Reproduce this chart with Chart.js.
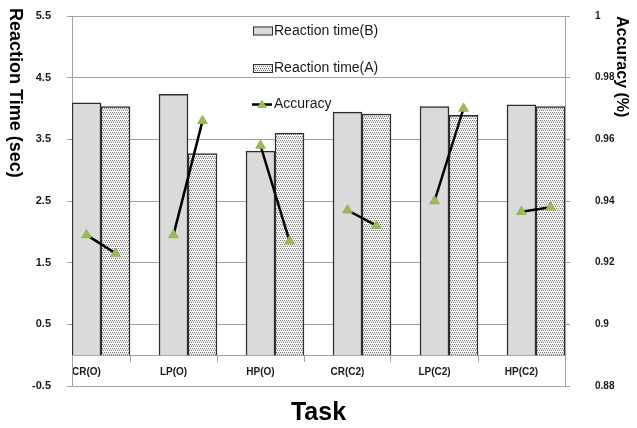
<!DOCTYPE html>
<html>
<head>
<meta charset="utf-8">
<script src="https://cdn.jsdelivr.net/npm/chart.js@4.4.0/dist/chart.umd.min.js"></script>
<style>
  body { margin: 0; background: #fff; }
</style>
</head>
<body>
<canvas id="myChart" width="637" height="428"></canvas>
<script>
'use strict';

// tasks on the x axis
let tasks = ['CR(O)', 'LP(O)', 'HP(O)', 'CR(C2)', 'LP(C2)', 'HP(C2)'];

// reaction time (sec)
let reactionB = [4.09, 4.23, 3.31, 3.94, 4.03, 4.06];
let reactionA = [4.03, 3.27, 3.60, 3.91, 3.89, 4.03];

// accuracy, B point and A point of every task
let accuracyB = [0.929, 0.929, 0.958, 0.937, 0.940, 0.9365];
let accuracyA = [0.923, 0.966, 0.927, 0.932, 0.970, 0.938];

// axis ranges
let rtMin = -0.5, rtMax = 5.5, rtStep = 1;
let accMin = 0.88, accMax = 1, accStep = 0.02;

// bar A sits one bar width right of bar B (slot = 3 bar widths)
let shiftA = 1 / 3;

let gridGray = '#a3a3a3';
let textColor = '#1a1a1a';
Chart.defaults.font.family = '"Liberation Sans", Arial, sans-serif';

//dotted fill for the A bars
function dotPattern() {
    let c = document.createElement('canvas');
    c.width = 4;
    c.height = 4;
    let g = c.getContext('2d');
    g.fillStyle = '#ffffff';
    g.fillRect(0, 0, 4, 4);
    g.fillStyle = '#e2e2e2';
    g.fillRect(0, 1, 4, 1);
    g.fillStyle = '#7e7e7e';
    g.fillRect(0, 0, 1, 1);
    g.fillRect(2, 0, 1, 1);
    g.fillRect(1, 2, 1, 1);
    g.fillRect(3, 2, 1, 1);
    return g.createPattern(c, 'repeat');
}
let dots = dotPattern();

//data tables
let dataB = reactionB.map((v, i) => ({ x: i, y: v }));
let dataA = reactionA.map((v, i) => ({ x: i + shiftA, y: v }));
let dataAcc = [];
for (let i = 0; i < tasks.length; i++) {
    dataAcc.push({ x: i, y: accuracyB[i] });
    dataAcc.push({ x: i + shiftA, y: accuracyA[i] });
}

//legend drawn inside the plot + left title reading downwards
let boxLegend = {
    id: 'boxLegend',
    afterDraw(chart) {
        let ctx = chart.ctx;
        let sets = chart.data.datasets;
        let x = 253;
        let rows = [31, 68.5, 104.5];
        ctx.save();
        ctx.font = '14px "Liberation Sans", Arial, sans-serif';
        ctx.textBaseline = 'middle';
        ctx.textAlign = 'left';

        [sets[1], sets[2]].forEach((ds, k) => {
            let y = rows[k];
            ctx.fillStyle = ds.backgroundColor;
            ctx.fillRect(x, y - 4.5, 20, 9);
            ctx.strokeStyle = '#2e2e2e';
            ctx.lineWidth = 1;
            ctx.strokeRect(x + 0.5, y - 4, 19, 8);
            ctx.fillStyle = textColor;
            ctx.fillText(ds.label, x + 21, y);
        });

        let acc = sets[0];
        let y = rows[2];
        ctx.strokeStyle = '#000';
        ctx.lineWidth = 2.5;
        ctx.beginPath();
        ctx.moveTo(x - 1, y);
        ctx.lineTo(x + 19, y);
        ctx.stroke();
        ctx.fillStyle = acc.pointBackgroundColor;
        ctx.beginPath();
        ctx.moveTo(x + 9, y - 5);
        ctx.lineTo(x + 14, y + 3.5);
        ctx.lineTo(x + 4, y + 3.5);
        ctx.closePath();
        ctx.fill();
        ctx.fillStyle = textColor;
        ctx.fillText(acc.label, x + 21, y);

        // y axis title
        ctx.translate(15, 8);
        ctx.rotate(Math.PI / 2);
        ctx.font = 'bold 18px "Liberation Sans", Arial, sans-serif';
        ctx.fillStyle = '#000';
        ctx.fillText('Reaction Time (sec)', 0, 0);
        ctx.restore();
    }
};

let config = {
    type: 'bar',
    data: {
        datasets: [{
            type: 'line',
            label: 'Accuracy',
            data: dataAcc,
            yAxisID: 'y1',
            order: 0,
            borderColor: '#000',
            borderWidth: 2.5,
            fill: false,
            tension: 0,
            pointStyle: 'triangle',
            pointRadius: 5.5,
            pointBorderWidth: 1,
            pointBackgroundColor: '#9bbb59',
            pointBorderColor: '#93b152',
            segment: {
                borderColor: c => (c.p0DataIndex % 2 ? 'rgba(0,0,0,0)' : '#000')
            }
        }, {
            label: 'Reaction time(B)',
            data: dataB,
            yAxisID: 'y',
            order: 1,
            backgroundColor: '#dadada',
            borderColor: '#2e2e2e',
            borderWidth: 1.5
        }, {
            label: 'Reaction time(A)',
            data: dataA,
            yAxisID: 'y',
            order: 1,
            backgroundColor: dots,
            borderColor: '#2e2e2e',
            borderWidth: 1.5
        }]
    },
    options: {
        responsive: false,
        animation: false,
        devicePixelRatio: 1,
        layout: { padding: { top: 16, left: 0, right: 0, bottom: 0 } },
        datasets: {
            bar: { grouped: false, categoryPercentage: 1, barPercentage: 1 }
        },
        plugins: {
            legend: { display: false },
            tooltip: { enabled: false },
            title: {
                display: true,
                text: 'Task',
                position: 'bottom',
                color: '#000',
                font: { size: 25, weight: 'bold' },
                padding: { top: 12, bottom: 0 }
            }
        },
        scales: {
            x: {
                type: 'linear',
                position: { y: 0 },
                min: -1 / 6,
                max: 5.5,
                offset: false,
                grid: { offset: false, drawOnChartArea: false, tickLength: 6, color: gridGray },
                border: { color: gridGray },
                afterBuildTicks: axis => {
                    axis.ticks = tasks.map((t, i) => ({ value: i + 0.5 }));
                },
                ticks: {
                    autoSkip: false,
                    maxRotation: 0,
                    padding: 5,
                    labelOffset: -43.5,
                    color: textColor,
                    font: { size: 10, weight: 'bold' },
                    callback: (v, i) => tasks[i]
                }
            },
            y: {
                position: 'left',
                min: rtMin,
                max: rtMax,
                afterFit: s => { s.width = 72; s.paddingTop = 0; s.paddingBottom = 0; },
                grid: { color: gridGray, tickLength: 5 },
                border: { color: gridGray },
                ticks: {
                    stepSize: rtStep,
                    padding: 16,
                    color: textColor,
                    font: { size: 11, weight: 'bold' },
                    callback: v => v.toFixed(1)
                }
            },
            y1: {
                position: 'right',
                min: accMin,
                max: accMax,
                afterFit: s => { s.width = 72; s.paddingTop = 0; s.paddingBottom = 0; },
                grid: { drawOnChartArea: false, color: gridGray, tickLength: 5 },
                border: { color: gridGray },
                ticks: {
                    stepSize: accStep,
                    padding: 25,
                    color: textColor,
                    font: { size: 10, weight: 'bold' },
                    callback: v => String(+v.toFixed(2))
                },
                title: {
                    display: true,
                    text: 'Accuracy (%)',
                    align: 'end',
                    color: '#000',
                    font: { size: 16, weight: 'bold' },
                    padding: { top: 6, bottom: 0 }
                }
            }
        }
    },
    plugins: [boxLegend]
};

let myChart = new Chart(document.getElementById('myChart'), config);
</script>
</body>
</html>
